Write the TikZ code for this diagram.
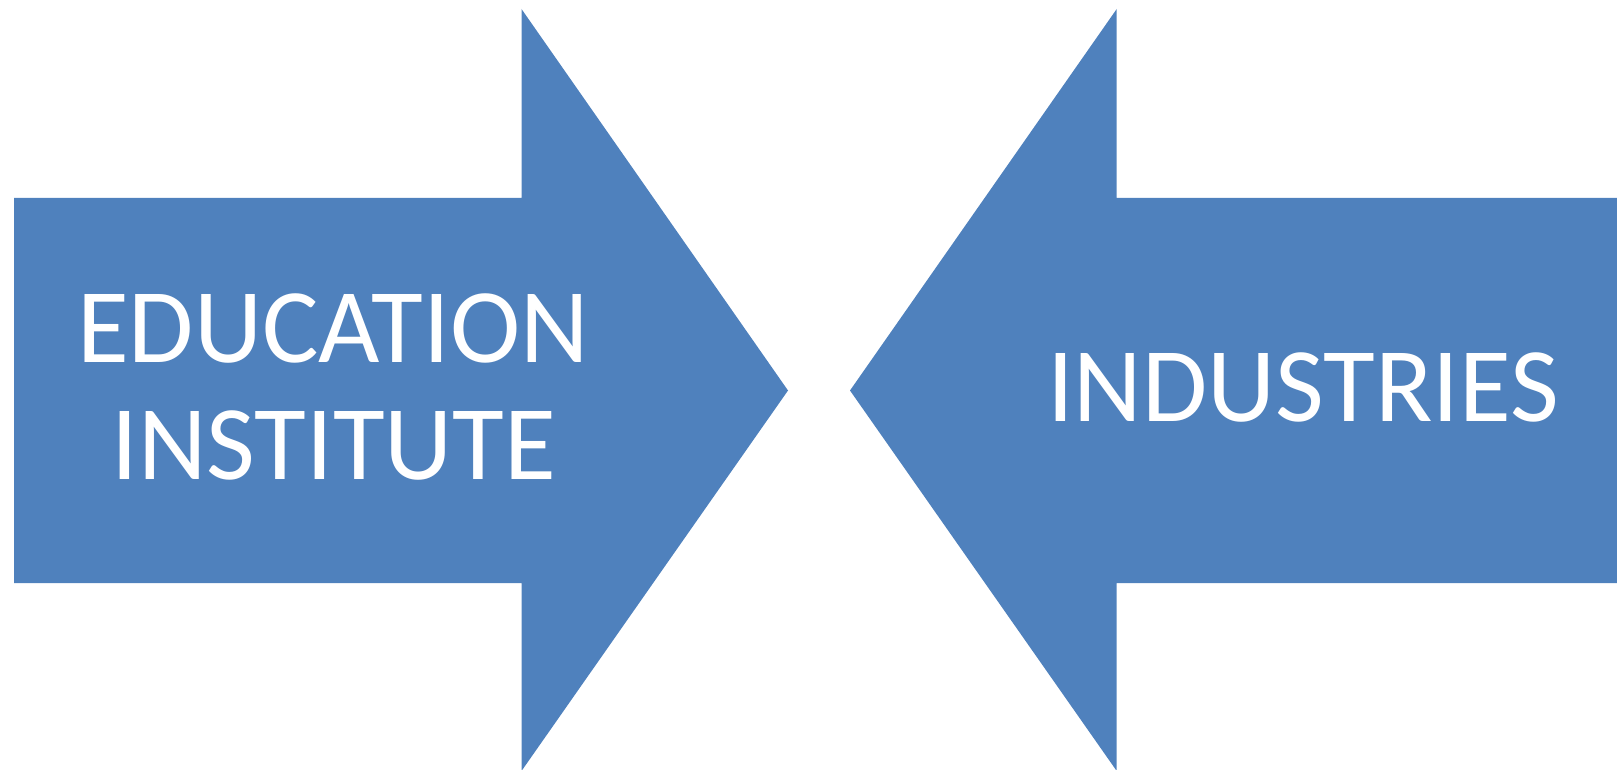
\documentclass[tikz,border=0pt]{standalone}
\usepackage{fontspec}
\setmainfont{Carlito}
\definecolor{arrowblue}{RGB}{79,129,189}
\tikzset{
  bigarrow/.style={fill=arrowblue, draw=none},
  arrowtext/.style={text=white, inner sep=0pt, align=center,
    font=\fontsize{106}{117}\selectfont}
}
\begin{document}
\begin{tikzpicture}[x=1pt,y=-1pt]
\useasboundingbox (0,0) rectangle (1617,770);
% left arrow
\fill[bigarrow] (14,198) -- (521.5,198) -- (521.5,9) -- (788,390.5) -- (521.5,771) -- (521.5,583) -- (14,583) -- cycle;
% right arrow
\fill[bigarrow] (1617,198) -- (1116.7,198) -- (1116.7,9) -- (850,390.5) -- (1116.7,771) -- (1116.7,583) -- (1617,583) -- cycle;
\node[arrowtext, anchor=base] (edu) at (333,362) {EDUCATION};
\node[arrowtext, anchor=base] (inst) at (334,479) {INSTITUTE};
\node[arrowtext, anchor=base] (ind) at (1303,421) {INDUSTRIES};
\end{tikzpicture}
\end{document}
